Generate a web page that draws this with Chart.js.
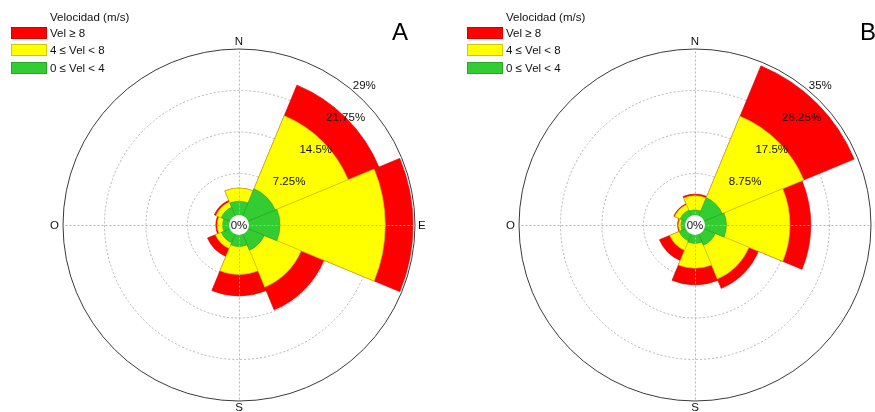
<!DOCTYPE html>
<html>
<head>
<meta charset="utf-8">
<script src="https://cdn.jsdelivr.net/npm/chart.js@4/dist/chart.umd.min.js"></script>
<style>
  html, body { margin: 0; padding: 0; background: #fff; width: 875px; height: 412px; overflow: hidden;
    font-family: "Liberation Sans", Arial, Helvetica, sans-serif; color: #111; }
  .panel { position: absolute; top: 0; height: 412px; }
  canvas { display: block; }
  .legend { position: absolute; top: 0; font-size: 11.5px; }
  .legend .title { position: absolute; left: 39px; top: 11px; line-height: 12px; white-space: nowrap; }
  .legend .item { position: absolute; left: 0; height: 12px; white-space: nowrap; }
  .legend .swatch { position: absolute; left: 0; top: 0; width: 36px; height: 12px; box-sizing: border-box; border: 1px solid; }
  .legend .text { position: absolute; left: 39px; top: 0; line-height: 12px; }
  .tag { position: absolute; top: 20px; font-size: 24px; line-height: 24px; color: #000; }
</style>
</head>
<body>
<div class="panel" style="left:0;width:437px"><canvas id="roseA" width="437" height="412"></canvas></div>
<div class="panel" style="left:437px;width:438px"><canvas id="roseB" width="438" height="412"></canvas></div>
<div class="legend" id="legendA" style="left:11px"></div>
<div class="legend" id="legendB" style="left:467px"></div>
<div class="tag" style="left:392px">A</div>
<div class="tag" style="left:860px">B</div>
<script>
// Sector directions (45° bins, clockwise from north)
const directions = ['N', 'NE', 'E', 'SE', 'S', 'SW', 'W', 'NW'];
// Speed classes, lowest first (stacked from the centre outwards)
const speedClasses = ['0 \u2264 Vel < 4', '4 \u2264 Vel < 8', 'Vel \u2265 8'];
const classColors = ['#33cc33', '#ffff00', '#ff0000'];
const classBorders = ['#27a827', '#caca00', '#d40000'];
const legendTitle = 'Velocidad (m/s)';
const cardinalLabels = ['N', 'E', 'S', 'O'];

// Frequency (%) per direction and speed class — station A
const calmA   = [2.4, 5.1, 5.4, 3.0, 2.0, 1.6, 1.1, 1.6];
const mediumA = [2.3, 13.8, 18.4, 7.0, 4.9, 1.1, 0.95, 1.0];
const strongA = [0.0, 5.8, 4.85, 4.3, 3.75, 1.5, 0.25, 0.3];
const ringsA  = [7.25, 14.5, 21.75, 29];

// Frequency (%) per direction and speed class — station B
const calmB   = [1.05, 4.1, 4.5, 2.5, 1.75, 1.5, 0.85, 1.27];
const mediumB = [3.0, 18.6, 13.4, 7.7, 5.25, 2.15, 0.5, 1.25];
const strongB = [0.35, 11.5, 4.4, 2.15, 3.5, 2.35, 0.2, 0.2];
const ringsB  = [8.75, 17.5, 26.25, 35];

const RADIUS_PX = 176;   // outer ring radius
const HOLE_PX = 10;      // empty centre radius
const FONT = '"Liberation Sans", Arial, Helvetica, sans-serif';

// Running totals so each class sits on top of the slower ones
function cumulative(layers) {
  const out = [];
  layers.forEach((vals, i) => {
    out.push(vals.map((v, j) => (i ? out[i - 1][j] : 0) + v));
  });
  return out;
}

function buildLegend(el) {
  let html = '<div class="title">' + legendTitle + '</div>';
  const tops = [27, 44, 62];
  for (let k = 0; k < speedClasses.length; k++) {
    const i = speedClasses.length - 1 - k;
    html += '<div class="item" style="top:' + tops[k] + 'px">' +
      '<div class="swatch" style="background:' + classColors[i] + ';border-color:' + classBorders[i] + '"></div>' +
      '<div class="text">' + speedClasses[i].replace(/</g, '&lt;') + '</div></div>';
  }
  el.innerHTML = html;
}

const roseDecor = {
  id: 'roseDecor',
  afterDraw(chart, args, opts) {
    const s = chart.scales.r;
    const ctx = chart.ctx;
    const cx = s.xCenter, cy = s.yCenter, R = s.drawingArea;
    const r0 = s.getDistanceFromCenterForValue(0);
    ctx.save();
    // dotted spokes N/E/S/W
    ctx.strokeStyle = '#b4b4b4';
    ctx.lineWidth = 1;
    ctx.setLineDash([2, 2]);
    for (let k = 0; k < 4; k++) {
      const a = k * Math.PI / 2 - Math.PI / 2;
      ctx.beginPath();
      ctx.moveTo(cx + 0.5, cy + 0.5);
      ctx.lineTo(cx + 0.5 + R * Math.cos(a), cy + 0.5 + R * Math.sin(a));
      ctx.stroke();
    }
    ctx.setLineDash([]);
    // empty centre
    ctx.fillStyle = '#fff';
    ctx.beginPath();
    ctx.arc(cx, cy, r0, 0, Math.PI * 2);
    ctx.fill();
    ctx.fillStyle = '#111';
    ctx.font = '11.5px ' + FONT;
    ctx.textAlign = 'center';
    ctx.textBaseline = 'middle';
    ctx.fillText('0%', cx, cy + 0.5);
    // compass letters
    ctx.font = '11.5px ' + FONT;
    ctx.textAlign = 'center'; ctx.textBaseline = 'bottom';
    ctx.fillText(cardinalLabels[0], cx, cy - R - 1);
    ctx.textAlign = 'left'; ctx.textBaseline = 'middle';
    ctx.fillText(cardinalLabels[1], cx + R + 3, cy + 1);
    ctx.textAlign = 'center'; ctx.textBaseline = 'top';
    ctx.fillText(cardinalLabels[2], cx, cy + R + 1);
    ctx.textAlign = 'right'; ctx.textBaseline = 'middle';
    ctx.fillText(cardinalLabels[3], cx - R - 4, cy + 1);
    // ring values along the 40° bearing
    ctx.textAlign = 'left'; ctx.textBaseline = 'alphabetic';
    const a = 40 * Math.PI / 180 - Math.PI / 2;
    opts.rings.forEach(v => {
      const r = s.getDistanceFromCenterForValue(v) + 1;
      ctx.fillText(v + '%', cx + r * Math.cos(a), cy + r * Math.sin(a));
    });
    ctx.restore();
  }
};

function makeRose(id, layers, rings, padding) {
  const max = rings[rings.length - 1];
  const hole = HOLE_PX / (RADIUS_PX - HOLE_PX) * max;
  const stacked = cumulative(layers);
  return new Chart(document.getElementById(id), {
    type: 'polarArea',
    data: {
      labels: directions,
      datasets: stacked.map((vals, i) => ({
        label: speedClasses[i],
        data: vals,
        backgroundColor: classColors[i],
        borderColor: classBorders[i],
        borderWidth: 0.7
      }))
    },
    options: {
      responsive: false,
      animation: false,
      events: [],
      layout: { padding: padding },
      plugins: {
        legend: { display: false },
        tooltip: { enabled: false },
        roseDecor: { rings: rings }
      },
      scales: {
        r: {
          min: -hole,
          max: max,
          startAngle: -22.5,
          z: 1,
          afterBuildTicks: sc => {
            sc.ticks = [{ value: -hole }, { value: 0 }].concat(rings.map(v => ({ value: v })));
          },
          ticks: { display: false },
          pointLabels: { display: false },
          angleLines: { display: false },
          grid: {
            circular: true,
            lineWidth: 1,
            color: c => {
              const v = c.tick ? c.tick.value : 0;
              if (v <= 0) return 'rgba(0,0,0,0)';
              return v === max ? '#3a3a3a' : '#b4b4b4';
            }
          },
          border: {
            dash: c => (c.tick && c.tick.value === max) ? [] : [2, 2]
          }
        }
      }
    },
    plugins: [roseDecor]
  });
}

buildLegend(document.getElementById('legendA'));
buildLegend(document.getElementById('legendB'));
makeRose('roseA', [calmA, mediumA, strongA], ringsA, { left: 63, right: 22, top: 49, bottom: 11 });
makeRose('roseB', [calmB, mediumB, strongB], ringsB, { left: 82, right: 4, top: 49, bottom: 11 });
</script>
</body>
</html>
